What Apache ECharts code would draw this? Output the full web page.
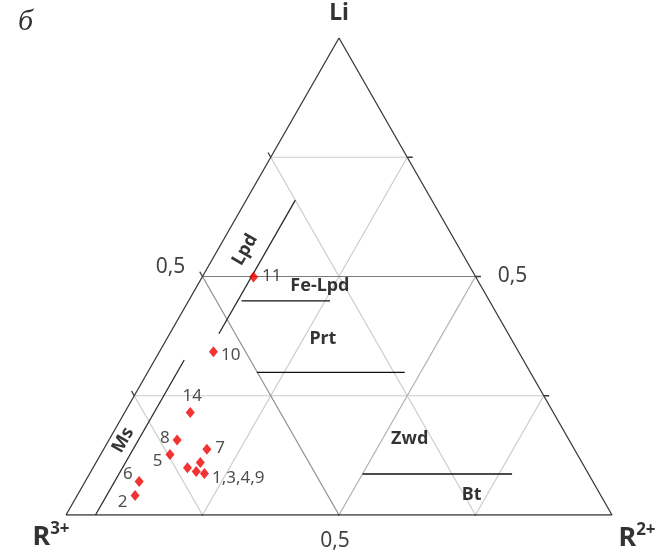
<!DOCTYPE html>
<html><head><meta charset="utf-8">
<script src="https://cdn.jsdelivr.net/npm/echarts@6/dist/echarts.min.js"></script>
<style>html,body{margin:0;padding:0;background:#fff}#c{width:661px;height:553px}</style>
</head><body><div id="c"></div>
<script>
// ---- data (ternary fractions: Li, R2+, R3+) ----
const sampleIds = ['1', '2', '3', '4', '5', '6', '7', '8', '9', '10', '11', '14'];
const liValues  = [0.110, 0.041, 0.099, 0.091, 0.127, 0.070, 0.138, 0.157, 0.087, 0.342, 0.499, 0.215];
const r2Values  = [0.191, 0.106, 0.173, 0.193, 0.127, 0.099, 0.189, 0.125, 0.210, 0.099, 0.094, 0.120];
const r3Values  = [0.699, 0.853, 0.728, 0.716, 0.746, 0.831, 0.673, 0.718, 0.703, 0.559, 0.407, 0.665];
const sampleLabels = ['', '2', '', '', '5', '6', '7', '8', '1,3,4,9', '10', '11', '14'];

const gridTicks = [0.25, 0.5, 0.75];
const tickLabel = '0,5';

// field boundaries: [Li start, R2 start, Li end, R2 end]
const boundaryNames = ['Ms', 'Lpd', 'Fe-Lpd/Prt', 'Prt/Zwd', 'Zwd/Bt'];
const boundaryLi1 = [0.000, 0.380, 0.449, 0.299, 0.086];
const boundaryR21 = [0.054, 0.090, 0.097, 0.200, 0.500];
const boundaryLi2 = [0.325, 0.660, 0.449, 0.299, 0.086];
const boundaryR22 = [0.054, 0.090, 0.259, 0.471, 0.774];

const fieldNames = ['Lpd', 'Ms', 'Fe-Lpd', 'Prt', 'Zwd', 'Bt'];
const fieldLi    = [0.556, 0.157, 0.480, 0.369, 0.159, 0.042];
const fieldR2    = [0.050, 0.026, 0.225, 0.286, 0.550, 0.722];

// ---- helpers ----
const toXY = (li, r2) => [r2 + li / 2, li];
const FONT = '"Noto Sans", "Open Sans", sans-serif';
const series = [];
const seg = (a, b, color, width, z) => series.push({
  type: 'line', data: [a, b], symbol: 'none', silent: true, z: z || 2,
  lineStyle: { color, width }, animation: false
});

// triangle outline
series.push({
  type: 'line', symbol: 'none', silent: true, z: 5, animation: false,
  data: [toXY(0, 0), toXY(0, 1), toXY(1, 0), toXY(0, 0)],
  lineStyle: { color: '#3a3a3a', width: 1.3 }
});

const ext = 0.01;
gridTicks.forEach(c => {
  const mid = c === 0.5;
  // constant Li (horizontal)
  seg(toXY(c, 0), toXY(c, 1 - c), mid ? '#7a7a7a' : '#cccccc', 1.2, mid ? 3 : 2);
  seg(toXY(c, 1 - c), toXY(c, 1 - c + ext), '#3a3a3a', 1.3, 4);
  // constant R3+ (from bottom to left edge)
  seg(toXY(0, 1 - c), toXY(1 - c, 0), mid ? '#8e8e8e' : '#cccccc', 1.2, mid ? 3 : 2);
  seg(toXY(1 - c, 0), toXY(1 - c + ext, -ext), '#3a3a3a', 1.3, 4);
  // constant R2+ (from bottom to right edge)
  seg(toXY(0, c), toXY(1 - c, c), mid ? '#b0b0b0' : '#cccccc', 1.2, 2);
  seg(toXY(0, c), toXY(-ext, c), '#3a3a3a', 1.3, 4);
});

// field boundaries
boundaryNames.forEach((n, i) => {
  seg(toXY(boundaryLi1[i], boundaryR21[i]), toXY(boundaryLi2[i], boundaryR22[i]),
      i < 2 ? '#2a2a2a' : '#111111', 1.3, 6);
});

// samples
const labelPlace = {
  '2': { position: 'left', distance: 3, offset: [0, 7] },
  '5': { position: 'left', distance: 3, offset: [0, 7] },
  '6': { position: 'left', distance: 2, offset: [0, -7] },
  '7': { position: 'right', distance: 4, offset: [0, -1] },
  '8': { position: 'left', distance: 3, offset: [0, -2] },
  '9': { position: 'right', distance: 3, offset: [0, 5] },
  '10': { position: 'right', distance: 3, offset: [0, 3] },
  '11': { position: 'right', distance: 4, offset: [0, -1] },
  '14': { position: 'top', distance: 2, offset: [2, 0] }
};
series.push({
  type: 'scatter', z: 10, animation: false,
  symbol: 'diamond', symbolSize: [9, 11],
  itemStyle: { color: '#ee0000' },
  data: sampleIds.map((id, i) => {
    const p = labelPlace[id];
    return {
      name: id,
      value: toXY(liValues[i], r2Values[i]),
      label: sampleLabels[i] ? Object.assign({
        show: true, formatter: sampleLabels[i],
        color: '#222', fontSize: 17, fontFamily: FONT
      }, p) : { show: false }
    };
  })
});

// field names
series.push({
  type: 'scatter', z: 11, animation: false, symbolSize: 0, silent: true,
  data: fieldNames.map((n, i) => ({
    value: toXY(fieldLi[i], fieldR2[i]),
    label: {
      show: true, position: 'inside', formatter: n,
      rotate: (n === 'Lpd' || n === 'Ms') ? 60 : 0,
      color: '#000', fontSize: 18, fontWeight: 'bold', fontFamily: FONT
    }
  }))
});

// axis / vertex labels
const ann = (pos, text, offset, extra) => ({
  value: pos,
  label: Object.assign({ show: true, position: 'inside', formatter: text, offset,
    color: '#000', fontFamily: FONT }, extra)
});
const rich = {
  r: { fontSize: 27, fontWeight: 'bold', fontFamily: FONT, color: '#000', lineHeight: 30, verticalAlign: 'bottom' },
  s: { fontSize: 17, fontWeight: 'bold', fontFamily: FONT, color: '#000', lineHeight: 30, verticalAlign: 'top', padding: [0, 0, 9, 0] }
};
series.push({
  type: 'scatter', z: 12, animation: false, symbolSize: 0, silent: true,
  data: [
    ann(toXY(1, 0), 'Li', [0, -25], { fontSize: 23, fontWeight: 'bold' }),
    ann(toXY(0, 0), '{r|R}{s|3+}', [-15, 21], { rich }),
    ann(toXY(0, 1), '{r|R}{s|2+}', [25, 22], { rich }),
    ann(toXY(0.5, 0), tickLabel, [-32, -9], { fontSize: 21, color: '#111' }),
    ann(toXY(0.5, 0.5), tickLabel, [37, 0], { fontSize: 21, color: '#111' }),
    ann(toXY(0, 0.5), tickLabel, [-4, 26], { fontSize: 21, color: '#111' })
  ]
});

const chart = echarts.init(document.getElementById('c'), null, { renderer: 'canvas' });
chart.setOption({
  backgroundColor: '#fff',
  animation: false,
  title: {
    text: 'б', left: 13, top: 2,
    textStyle: { fontFamily: '"Liberation Serif", "DejaVu Serif", serif', fontStyle: 'italic',
      fontWeight: 'normal', fontSize: 30, color: '#333' }
  },
  grid: { left: 66, right: 49, top: 38, bottom: 38 },
  xAxis: { type: 'value', min: 0, max: 1, show: false },
  yAxis: { type: 'value', min: 0, max: 1, show: false },
  series
});
</script>
</body></html>
